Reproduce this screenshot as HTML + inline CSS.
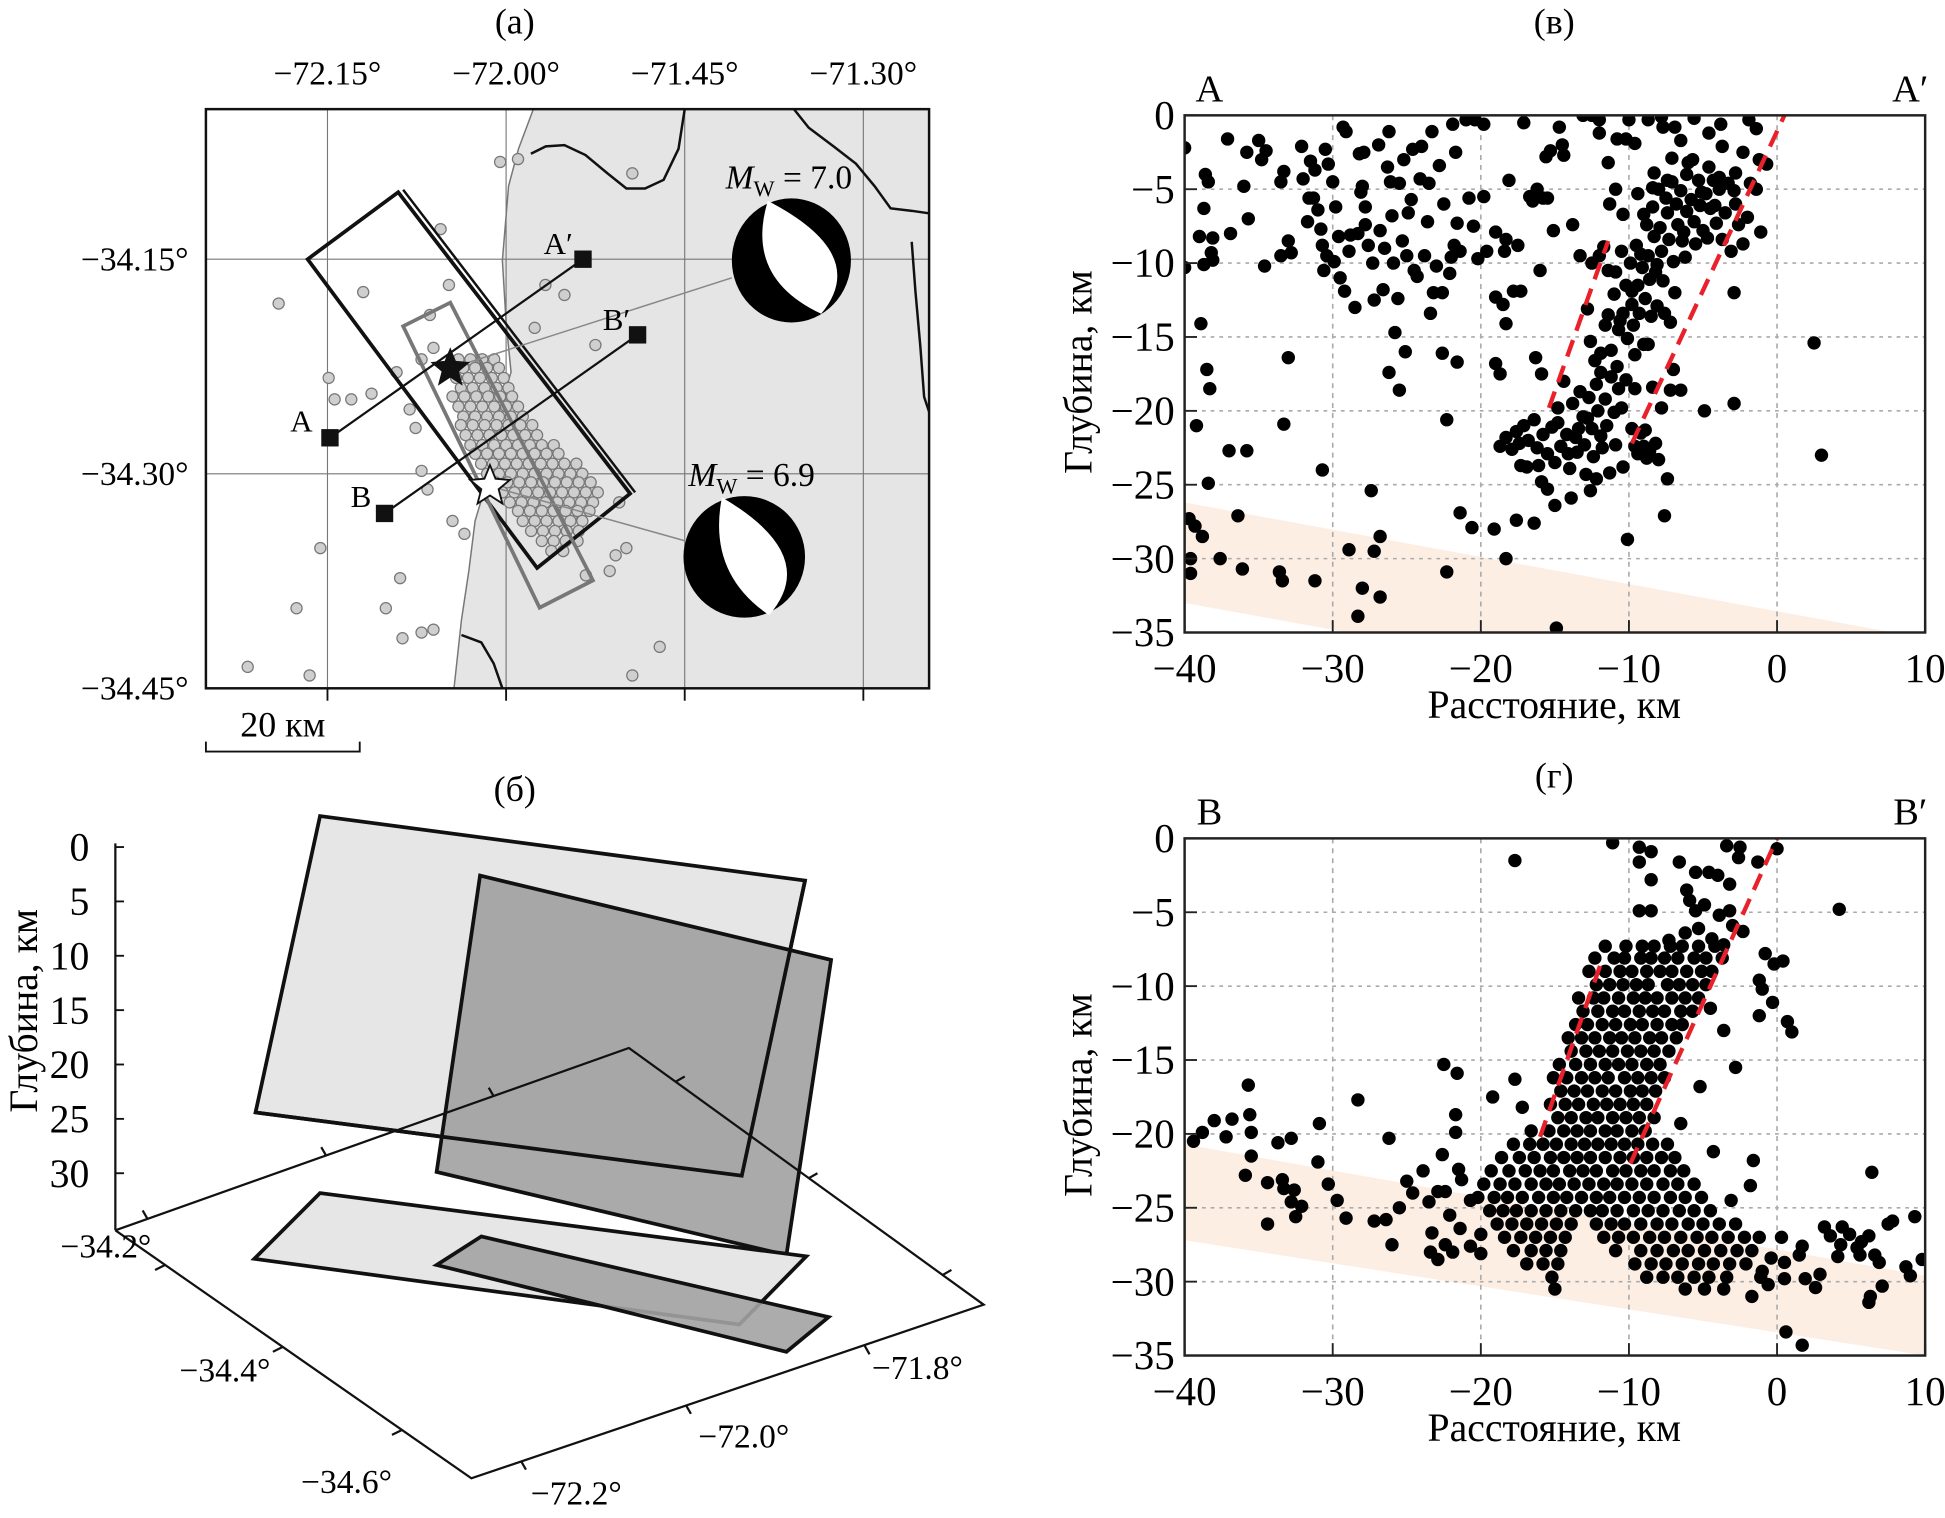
<!DOCTYPE html>
<html><head><meta charset="utf-8"><style>
html,body{margin:0;padding:0;background:#fff;}
svg{display:block;font-family:"Liberation Serif",serif;}
</style></head><body>
<svg id="fig" width="1945" height="1518" viewBox="0 0 1568 1224" preserveAspectRatio="none" xmlns="http://www.w3.org/2000/svg">
<rect x="0" y="0" width="1568" height="1224" fill="#fff"/>

<!-- ===== Panel (a) map ===== -->
<g>
<text x="415" y="27" font-size="29" text-anchor="middle">(a)</text>
<clipPath id="mapclip"><rect x="166" y="88" width="583" height="467"/></clipPath>
<g clip-path="url(#mapclip)">
<path d="M430,88 L418,120 L410,150 L405,210 L408,260 L412,300 L400,340 L395,380 L383,420 L378,460 L372,500 L366,555 L749,555 L749,88 Z" fill="#e5e5e5" stroke="#777" stroke-width="1.2"/>
<g id="mapgrid" stroke="#777" stroke-width="0.9"></g>
<g fill="none" stroke="#111" stroke-width="2">
<path d="M552,88 L547,120 L535,145 L520,152 L505,152 L490,140 L472,125 L455,117 L440,118 L428,124"/>
<path d="M640,88 L652,103 L672,118 L690,132 L705,150 L718,168 L735,170 L749,172"/>
<path d="M735,195 L738,235 L742,280 L745,320 L749,332"/>
<path d="M372,512 L388,518 L398,535 L405,555"/>
</g>
</g>
<g id="mapdots"></g>
<polygon points="321,155 248,209 433,458 508,398" fill="none" stroke="#111" stroke-width="3"/>
<line x1="325" y1="153" x2="512" y2="397" stroke="#111" stroke-width="2"/>
<polygon points="363,244 325,263 435,490 478,468" fill="none" stroke="#777" stroke-width="3"/>
<line x1="363" y1="297" x2="590" y2="224" stroke="#888" stroke-width="1.2"/>
<line x1="395" y1="392" x2="552" y2="436" stroke="#888" stroke-width="1.2"/>
<g stroke="#111" stroke-width="1.8">
<line x1="266" y1="353" x2="470" y2="209"/>
<line x1="310" y1="414" x2="514" y2="270"/>
</g>
<g fill="#111">
<rect x="259" y="346" width="14" height="14"/>
<rect x="463" y="202" width="14" height="14"/>
<rect x="303" y="407" width="14" height="14"/>
<rect x="507" y="263" width="14" height="14"/>
</g>
<g font-size="25">
<text x="243" y="348" text-anchor="middle">A</text>
<text x="450" y="205" text-anchor="middle">A′</text>
<text x="497" y="266" text-anchor="middle">B′</text>
<text x="291" y="409" text-anchor="middle">B</text>
</g>
<polygon fill="#111" points="363,280 367.5,291 379,292 370,299.5 373,311 363,304.5 353,311 356,299.5 347,292 358.5,291"/>
<polygon fill="#fff" stroke="#111" stroke-width="1.5" points="395,375 399.5,386 411,387 402,394.5 405,406 395,399.5 385,406 388,394.5 379,387 390.5,386"/>
<g>
<ellipse cx="638" cy="210" rx="48" ry="50" fill="#000"/>
<path d="M619,162 Q600,224 662,253 Q702,205 619,162 Z" fill="#fff"/>
</g>
<g>
<ellipse cx="600" cy="449" rx="49" ry="49" fill="#000"/>
<path d="M582,401 Q570,462 620,496 Q662,448 582,401 Z" fill="#fff"/>
</g>
<text x="585" y="152" font-size="27"><tspan font-style="italic">M</tspan><tspan font-size="18" dy="6">W</tspan><tspan dy="-6"> = 7.0</tspan></text>
<text x="555" y="392" font-size="27"><tspan font-style="italic">M</tspan><tspan font-size="18" dy="6">W</tspan><tspan dy="-6"> = 6.9</tspan></text>
<rect x="166" y="88" width="583" height="467" fill="none" stroke="#111" stroke-width="2"/>
<g id="maplabels" font-size="27"></g>
<g>
<text x="228" y="594" font-size="29" text-anchor="middle">20 км</text>
<path d="M166,598 L166,606 L290,606 L290,598" fill="none" stroke="#111" stroke-width="1.5"/>
</g>
</g>

<!-- ===== Panel (б) 3D ===== -->
<g>
<text x="415" y="646" font-size="29" text-anchor="middle">(б)</text>
<polygon points="258,658 649,710 598,948 206,897" fill="#e6e6e6" stroke="#111" stroke-width="3"/>
<polygon points="387,706 670,774 634,1012 352,945" fill="#9e9e9e" fill-opacity="0.88" stroke="#111" stroke-width="3"/>
<polyline points="649,710 598,948 206,897" fill="none" stroke="#111" stroke-width="3"/>
<polygon points="258,962 650,1013 596,1068 205,1015" fill="#e6e6e6" stroke="#111" stroke-width="3"/>
<polygon points="388,997 668,1062 634,1090 352,1020" fill="#a3a3a3" fill-opacity="0.9" stroke="#111" stroke-width="3"/>
<g stroke="#111" stroke-width="1.8" fill="none">
<polyline points="93,992 507,845 793,1052 380,1192 93,992"/>
<line x1="93" y1="680" x2="93" y2="992"/>
<line x1="119" y1="983" x2="115" y2="976"/><line x1="263" y1="932" x2="259" y2="925"/><line x1="398" y1="884" x2="394" y2="877"/>
<line x1="545" y1="872" x2="552" y2="868"/><line x1="652" y1="950" x2="659" y2="946"/><line x1="760" y1="1028" x2="767" y2="1024"/>
<line x1="133" y1="1020" x2="125" y2="1024"/><line x1="228" y1="1086" x2="220" y2="1090"/><line x1="324" y1="1153" x2="316" y2="1157"/>
<line x1="697" y1="1085" x2="701" y2="1092"/><line x1="553" y1="1133" x2="557" y2="1140"/><line x1="420" y1="1178" x2="424" y2="1185"/>
</g>
<g id="zticks" font-size="32"></g>
<g font-size="27">
<text x="122" y="1014" text-anchor="end">−34.2°</text>
<text x="218" y="1114" text-anchor="end">−34.4°</text>
<text x="316" y="1204" text-anchor="end">−34.6°</text>
<text x="703" y="1112">−71.8°</text>
<text x="563" y="1167">−72.0°</text>
<text x="428" y="1213">−72.2°</text>
</g>
<text transform="translate(30,815) rotate(-90)" font-size="32" text-anchor="middle">Глубина, км</text>
</g>

<!-- ===== Panels (в) and (г) ===== -->
<g id="panelV"></g>
<g id="panelG"></g>
</svg>

<script>
// ---------- data ----------
var sectionTicksX = [-40, -30, -20, -10, 0, 10];
var sectionTicksY = [0, -5, -10, -15, -20, -25, -30, -35];
var depthTicks3d = [0, 5, 10, 15, 20, 25, 30];
var mapLonTicks = [-72.15, -72.00, -71.85, -71.70];
var mapLonLabels = ["−72.15°", "−72.00°", "−71.45°", "−71.30°"];
var mapLatTicks = [-34.15, -34.30, -34.45];
var mapLatLabels = ["−34.15°", "−34.30°", "−34.45°"];

var mapEvents = [[-72.005,-34.082],[-71.990,-34.080],[-71.894,-34.090],[-72.191,-34.181],[-72.120,-34.173],[-72.149,-34.233],[-72.144,-34.248],[-72.130,-34.248],[-72.113,-34.244],[-72.055,-34.129],[-72.064,-34.189],[-72.156,-34.352],[-72.176,-34.394],[-72.217,-34.435],[-72.165,-34.441],[-72.089,-34.373],[-72.101,-34.394],[-72.087,-34.415],[-72.071,-34.411],[-72.061,-34.409],[-71.894,-34.441],[-71.871,-34.421],[-71.908,-34.357],[-71.899,-34.352],[-71.913,-34.368],[-71.933,-34.371],[-71.967,-34.168],[-71.976,-34.198],[-71.951,-34.175],[-71.925,-34.210],[-72.048,-34.168],[-72.061,-34.212],[-72.071,-34.220],[-72.092,-34.229],[-72.081,-34.255],[-72.076,-34.268],[-72.071,-34.298],[-72.066,-34.311],[-72.045,-34.333],[-72.035,-34.342],[-72.030,-34.262],[-72.010,-34.246],[-71.960,-34.300],[-71.945,-34.330],[-71.905,-34.320]];
var mapClusterRows = [
[-34.220,[-72.040,-72.030,-72.020,-72.010]],
[-34.226,[-72.036,-72.026,-72.016,-72.006]],
[-34.233,[-72.042,-72.032,-72.022,-72.012,-72.002]],
[-34.240,[-72.038,-72.028,-72.018,-72.008,-71.998]],
[-34.246,[-72.045,-72.035,-72.025,-72.015,-72.005,-71.995]],
[-34.253,[-72.040,-72.030,-72.020,-72.010,-72.000,-71.990]],
[-34.260,[-72.036,-72.026,-72.016,-72.006,-71.996,-71.986]],
[-34.266,[-72.038,-72.028,-72.018,-72.008,-71.998,-71.988,-71.978]],
[-34.273,[-72.034,-72.024,-72.014,-72.004,-71.994,-71.984,-71.974]],
[-34.280,[-72.030,-72.020,-72.010,-72.000,-71.990,-71.980,-71.970,-71.960]],
[-34.286,[-72.026,-72.016,-72.006,-71.996,-71.986,-71.976,-71.966,-71.956]],
[-34.293,[-72.021,-72.011,-72.001,-71.991,-71.981,-71.971,-71.961,-71.951,-71.941]],
[-34.300,[-72.016,-72.006,-71.996,-71.986,-71.976,-71.966,-71.956,-71.946,-71.936]],
[-34.306,[-72.009,-71.999,-71.989,-71.979,-71.969,-71.959,-71.949,-71.939,-71.929]],
[-34.313,[-72.003,-71.993,-71.983,-71.973,-71.963,-71.953,-71.943,-71.933,-71.923]],
[-34.320,[-71.997,-71.987,-71.977,-71.967,-71.957,-71.947,-71.937,-71.927]],
[-34.326,[-71.990,-71.980,-71.970,-71.960,-71.950,-71.940,-71.930]],
[-34.333,[-71.986,-71.976,-71.966,-71.956,-71.946,-71.936]],
[-34.340,[-71.979,-71.969,-71.959,-71.949,-71.939]],
[-34.347,[-71.970,-71.960,-71.950,-71.940]],
[-34.354,[-71.962,-71.952]]];

var eventsAA = [[-40,-2.2],[-40,-10.3],[-37.1,-1.6],[-38.6,-4],[-38.4,-4.5],[-38.7,-6.3],[-39,-8.2],[-38.1,-8.3],[-38.2,-9.3],[-38.1,-9.8],[-38.7,-10.1],[-36.9,-8],[-36,-4.8],[-35.7,-7],[-35.8,-2.5],[-35,-1.7],[-34.5,-2.4],[-34.8,-3],[-34.6,-10.2],[-33.5,-9.5],[-33.5,-4.5],[-33.3,-3.8],[-33,-8.5],[-32.8,-9.3],[-32.1,-2.1],[-32,-4.3],[-31.7,-7.2],[-31.6,-5.6],[-31.3,-5.6],[-31.5,-3.1],[-31.2,-3.7],[-31,-6.4],[-30.8,-7.7],[-30.7,-8.8],[-30.5,-2.3],[-30.3,-3.3],[-30.4,-9.5],[-30.6,-10.5],[-30,-4.5],[-29.8,-6.2],[-29.6,-8.2],[-29.9,-9.9],[-29.5,-11],[-29.3,-0.8],[-29.1,-1.1],[-29.2,-11.9],[-28.8,-8.1],[-28.9,-9.2],[-28.5,-13],[-28.3,-8],[-28.2,-2.6],[-28,-4.8],[-28.1,-5.2],[-27.9,-2.5],[-27.8,-6.2],[-27.8,-7.4],[-27.6,-8.8],[-27.3,-10],[-27.2,-12.5],[-26.9,-2],[-26.8,-7.8],[-26.6,-11.8],[-26.5,-9],[-26.3,-3.5],[-26.2,-1.1],[-26.1,-4.5],[-26,-6.8],[-25.9,-10],[-25.6,-12.4],[-25.5,-4.6],[-25.3,-8.5],[-25.2,-3],[-25,-9.5],[-24.9,-6.6],[-24.7,-5.7],[-24.6,-2.3],[-24.5,-10.5],[-24.3,-10.9],[-24.1,-4.3],[-24,-2.1],[-23.8,-9.5],[-23.6,-7.2],[-23.5,-4.6],[-23.3,-1.1],[-23.2,-12],[-23,-10.2],[-22.8,-3.4],[-22.6,-12],[-22.5,-6],[-22.1,-10.7],[-22,-9.6],[-21.9,-0.6],[-21.7,-2.5],[-21.8,-8.8],[-21.6,-7.3],[-21.4,-9.2],[-21,-0.3],[-20.8,-5.6],[-20.5,-7.5],[-20.4,-0.3],[-20.2,-9.7],[-19.8,-0.6],[-19.8,-5.5],[-19.6,-9.2],[-19,-7.9],[-18.4,-9.2],[-18.3,-8.4],[-18.1,-4.4],[-17.8,-11.9],[-17.5,-8.8],[-17.1,-0.5],[-16.7,-5.5],[-16.5,-5.8],[-16.2,-5],[-16,-10.5],[-15.8,-5.6],[-15.5,-5.6],[-15.6,-2.8],[-15.3,-2.4],[-15.1,-7.8],[-14.5,-2],[-14.7,-0.8],[-14.4,-2.7],[-13.8,-7.4],[-13.3,-9.5],[-12.5,-10],
[-38.9,-14.1],[-38.5,-17.2],[-38.3,-18.5],[-39.2,-21],[-37,-22.7],[-35.8,-22.7],[-38.4,-24.9],[-39.7,-27.3],[-39.3,-27.8],[-38.8,-28.5],[-39.6,-30],[-39.6,-31],[-37.6,-30],[-36.4,-27.1],[-36.1,-30.7],[-33.6,-30.9],[-33.4,-31.5],[-31.2,-31.5],[-30.7,-24],[-33.3,-20.9],[-33,-16.4],[-28.9,-29.4],[-28,-32],[-28.3,-33.9],[-27.2,-29.5],[-26.8,-28.5],[-27.4,-25.4],[-26.8,-32.6],[-26.2,-17.4],[-25.5,-18.6],[-25.8,-14.7],[-25.1,-16],[-23.4,-13.4],[-22.6,-16.1],[-21.6,-16.7],[-22.3,-20.6],[-22.3,-30.9],[-21.4,-26.9],[-20.6,-27.9],[-19,-16.8],[-18.7,-17.5],[-19.1,-28],[-18.3,-14.1],[-18.5,-12.8],[-19,-12.3],[-17.6,-27.4],[-18.3,-30],[-17.3,-11.9],[-16.3,-16.4],[-16.4,-27.6],[-15.9,-17.5],[-14.9,-34.7],
[-18.7,-22.4],[-18.3,-21.8],[-17.9,-22.6],[-17.6,-21.4],[-17.4,-22.2],[-17.1,-21],[-17.3,-23.7],[-16.9,-23.8],[-16.8,-22],[-16.4,-20.6],[-16.2,-22.5],[-16.1,-23.7],[-15.9,-24.8],[-15.8,-21.6],[-15.5,-22.9],[-15.5,-25.3],[-15.2,-21.1],[-15,-23.5],[-15,-26.4],[-14.8,-20.8],[-14.6,-22.4],[-14.4,-18],[-14.2,-21.6],[-14,-23.9],[-13.8,-19.5],[-13.6,-21.8],[-13.5,-22.8],[-13.3,-18.7],[-13.1,-20.4],[-13,-22.3],[-12.9,-24.3],[-12.7,-19.1],[-12.5,-21.2],[-12.4,-23.1],[-12.2,-18.2],[-12.1,-20],[-11.9,-17.4],[-11.8,-22.5],[-11.6,-19.2],[-11.5,-21],[-11.3,-24.2],[-11.2,-17.7],[-11,-20.1],[-10.9,-22.3],[-10.7,-18.5],[-10.5,-19.8],[-10.4,-23.8],[-10.2,-17.9],[-9.8,-21.2],[-9.6,-18.5],[-9.4,-22.9],[-9.2,-21.5],[-9,-22.4],[-8.8,-23.2],[-8.6,-22.7],[-8.4,-18.4],[-8.2,-22.2],[-8,-23.3],[-7.8,-19.8],[-7.4,-24.6],[-7.6,-27.1],[-7.2,-18.6],[-10.1,-28.7],[-12.6,-25.4],[-13.9,-25.9],[-12.2,-24.6],[-14.8,-19.8],[-13.4,-21.2],[-12.8,-20.5],[-14.1,-22.9],[-11.9,-21.7],[-9.6,-22.4],[-8.9,-21.3],
[-12.8,-13.1],[-12.6,-15.3],[-12.3,-16.6],[-11.9,-16.1],[-11.6,-14.2],[-11.4,-13.5],[-11.2,-15.9],[-11,-12.1],[-10.9,-10.6],[-10.7,-14.5],[-10.5,-9.2],[-10.4,-13.4],[-10.2,-11.5],[-10.1,-15.1],[-9.9,-10],[-9.8,-12.8],[-9.7,-14.2],[-9.5,-8.8],[-9.4,-11.5],[-9.3,-13.4],[-9.1,-10.3],[-9,-15.5],[-8.9,-12.4],[-8.8,-7.4],[-8.7,-9.5],[-8.6,-11.1],[-8.5,-13.6],[-8.4,-6.2],[-8.3,-8.2],[-8.2,-10.6],[-8.1,-12.9],[-8,-5],[-7.9,-7.6],[-7.8,-9.2],[-7.7,-11.2],[-7.6,-13.4],[-7.4,-6.6],[-7.3,-8.4],[-7.1,-4.5],[-7,-9.9],[-6.9,-12],[-6.8,-6],[-6.7,-7.4],[-6.5,-5.1],[-6.4,-8.5],[-6.2,-9.6],[-6.1,-6.5],[-6,-3.2],[-5.8,-5.7],[-5.6,-7.2],[-5.5,-8.7],[-5.3,-4.4],[-5.2,-6.1],[-5,-7.8],[-4.8,-5.3],[-4.7,-8.3],[-4.5,-6.3],[-4.3,-4.4],[-4.1,-7.3],[-3.9,-5],[-3.7,-8.4],[-3.5,-6.6],[-3.3,-4.6],[-3.1,-9.2],[-2.9,-5.1],[-2.6,-7.4],[-2.3,-8.7],[-2,-6.9],[-1.8,-4.6],[-1.4,-5],[-1.1,-7.9],[-0.7,-3.3],[-1.2,-3],[-1.4,-0.9],[-1.9,-0.3],[-2.3,-2.5],[-3.7,-2.1],[-3.8,-0.6],[-4.6,-1.2],[-5.6,-0.2],[-6.5,-1.7],[-6.9,-0.8],[-7.7,-0.8],[-7.8,-0.1],[-8.7,-0.3],[-9.6,-1.9],[-10.2,-1.6],[-10,-0.3],[-10.8,-1.6],[-11.4,-3.2],[-12,-1.2],[-12,-0.3],[-12.5,0],[-13.1,0],[-11.3,-6],[-10.4,-6.7],[-10.9,-5],[-9.4,-5.3],[-9,-6.7],[-8.4,-4.9],[-8.3,-3.9],[-7.4,-4.4],[-7.1,-2.9],[-6.1,-4],[-5.7,-3],[-4.6,-3.5],[-3.9,-4.2],[-2.8,-3.9],[-2.8,-6],[-11.7,-8.9],[-11.4,-10.5],[-12,-9.5],[-9.6,-16.2],[-10.8,-17],[-8.7,-15.5],[-7.2,-14],[-7,-17.2],[-6.5,-18.6],[-4.9,-20],[-2.9,-19.5],[-2.9,-12],[2.5,-15.4],[3,-23],[-9.2,-9.4],[-8.1,-10.1],[-7.5,-5.6],[-6.3,-7.9],[-5.1,-5.2],[-4.2,-6.1],[-9.8,-11.9],[-10.6,-13.9]];

var eventsBBScatter = [[-39.4,-20.5],[-38.8,-19.9],[-38,-19.1],[-37.2,-20.2],[-36.8,-19],[-35.7,-16.7],[-35.6,-18.7],[-35.5,-19.9],[-35.5,-21.5],[-35.9,-22.8],[-34.4,-23.3],[-34.4,-26.1],[-33.7,-20.6],[-32.8,-20.3],[-33.4,-23.1],[-33.3,-23.7],[-32.6,-23.8],[-32.8,-24.6],[-32.1,-24.9],[-32.5,-25.6],[-30.9,-19.3],[-31,-21.9],[-30.3,-23.4],[-29.7,-24.5],[-29.1,-25.7],[-28.3,-17.7],[-27.2,-25.9],[-26.4,-25.8],[-26.2,-20.3],[-26,-27.5],[-25.5,-25],[-25,-23.2],[-24.6,-24],[-23.9,-22.5],[-23.5,-24.6],[-23.3,-26.7],[-23.4,-28],[-22.9,-28.5],[-22.4,-27.5],[-22.9,-23.9],[-22.4,-23.9],[-22.6,-21.4],[-22.5,-15.3],[-21.6,-15.9],[-21.7,-18.7],[-21.7,-19.9],[-21.5,-22.4],[-21.3,-23.1],[-22.1,-25.5],[-21.4,-26.4],[-21.9,-28],[-20.7,-24.5],[-20.7,-27.6],[-20,-26.8],[-20,-28.1],[-19.2,-17.5],[-17.7,-1.5],[-17.7,-16.3],[-17.2,-18.2],
[0.3,-27],[0.5,-28.7],[0.5,-29.8],[-0.4,-28.4],[-1,-29.3],[-0.6,-30.2],[-1.7,-31],[-1.8,-23.5],[0.6,-33.4],[1.7,-34.3],[1.5,-28.2],[1.7,-27.6],[1.9,-29.8],[2.6,-30.4],[2.9,-29.5],[3.2,-26.3],[3.6,-26.9],[4.1,-28.3],[4.3,-27.5],[4.4,-26.3],[4.9,-26.8],[5.4,-27.7],[5.6,-28.2],[5.7,-27.3],[6.2,-26.9],[6.4,-22.6],[6.6,-28.2],[6.9,-28.7],[7.1,-30.3],[6.3,-31],[6.2,-31.4],[7.5,-26.1],[7.8,-25.9],[8.7,-29],[9,-29.6],[9.3,-25.6],[9.8,-28.5],[4.2,-4.8],[0.7,-12.4],[1,-13.1],[0.4,-8.3],[-0.3,-11.1],[-1.2,-12],[-1.2,-9.6],[-1,-10.2],[-0.8,-7.8],[-0.2,-8.5],[-1.3,-1.6],[0,-0.7],[-2.5,-0.6],[-3.4,-0.5],[-2.6,-1.3],[-6.6,-1.6],[-5.5,-2.3],[-4.6,-2.3],[-4,-2.5],[-3.2,-3.1],[-6.1,-3.5],[-5.9,-4.2],[-8.5,-2.8],[-9.3,-0.6],[-9.3,-1.6],[-8.5,-0.9],[-11.1,-0.3],[-9.3,-4.9],[-8.5,-4.9],[-5.5,-4.9],[-4.9,-4.5],[-3.9,-5.2],[-3.2,-4.9],[-3,-5.9],[-2.3,-6.3],[-4.5,-11.5],[-3.6,-13],[-2.8,-15.5],[-5.2,-16.8],[-6.5,-19.3],[-1.6,-21.8],[-4.3,-21.2],[-3.1,-24.5],[-5.3,-6.1],[-4.4,-6.8],[-6.2,-6.4],[-7.3,-6.9],[-3.6,-7.2]];

var eventsBBRows = [
[-7.3,[-11.6,-10.2,-9.1,-8.3,-7.2,-6.4,-5.3,-4.2]],
[-8.1,[-12.3,-11,-10.3,-9.2,-8.5,-7.6,-6.7,-5.6,-4.8,-3.7]],
[-9.0,[-12.7,-11.6,-10.6,-9.8,-8.8,-7.9,-7.1,-6.1,-5.1,-4.4]],
[-9.9,[-12.2,-11.3,-10.4,-9.5,-8.7,-7.4,-6.6,-5.7,-4.8]],
[-10.8,[-13.4,-12.4,-11.7,-10.7,-9.7,-8.9,-8.1,-7.1,-6.2,-5.3]],
[-11.7,[-13.1,-12.1,-11.1,-10.3,-9.3,-8.4,-7.6,-6.5,-5.7]],
[-12.6,[-13.6,-12.8,-11.8,-10.9,-9.9,-9.1,-8.1,-7.1,-6.4]],
[-13.5,[-14.1,-13.2,-12.3,-11.3,-10.5,-9.6,-8.6,-7.8,-6.8]],
[-14.4,[-13.9,-12.9,-12,-11.1,-10.1,-9.2,-8.3,-7.3]],
[-15.3,[-14.7,-13.6,-12.6,-11.6,-10.7,-9.8,-8.8,-7.9]],
[-16.2,[-15.1,-14.2,-13.2,-12.3,-11.4,-10.3,-9.4,-8.5,-7.6]],
[-17.1,[-14.6,-13.7,-12.8,-11.8,-10.9,-9.9,-9.1,-8.2]],
[-18.0,[-15.3,-14.3,-13.4,-12.4,-11.5,-10.6,-9.7,-8.8]],
[-18.9,[-14.8,-13.9,-12.9,-12.1,-11.1,-10.2,-9.3,-8.3]],
[-19.8,[-16.6,-15.4,-14.4,-13.5,-12.6,-11.6,-10.8,-9.8,-8.9]],
[-20.7,[-17.8,-16.7,-15.8,-14.9,-13.9,-13,-12.1,-11.2,-10.3,-9.4,-8.4,-7.4]],
[-21.6,[-18.6,-17.4,-16.4,-15.3,-14.4,-13.5,-12.6,-11.6,-10.6,-9.7,-8.8,-7.8,-6.9]],
[-22.5,[-19.3,-18.1,-17,-16,-15.1,-14,-13.1,-12.2,-11.1,-10.2,-9.2,-8.3,-7.2,-6.3]],
[-23.4,[-19.8,-18.7,-17.7,-16.6,-15.6,-14.7,-13.7,-12.7,-11.7,-10.8,-9.8,-8.8,-7.7,-6.7,-5.6]],
[-24.3,[-20.2,-19.1,-18.2,-17.2,-16.1,-15.1,-14.2,-13.2,-12.2,-11.3,-10.3,-9.3,-8.3,-7.2,-6.2,-5.1]],
[-25.2,[-19.4,-18.5,-17.6,-16.6,-15.6,-14.6,-13.6,-12.6,-11.8,-10.8,-9.7,-8.7,-7.7,-6.6,-5.6,-4.5]],
[-26.1,[-18.9,-17.9,-16.9,-15.9,-14.9,-13.9,-12.2,-11.2,-10.3,-9.2,-8.1,-7.1,-6,-5,-3.9,-2.8]],
[-27.0,[-18.4,-17.3,-16.3,-15.3,-14.3,-11.7,-10.7,-9.7,-8.6,-7.6,-6.5,-5.4,-4.4,-3.3,-2.2,-1.2]],
[-27.9,[-17.8,-16.6,-15.6,-14.6,-10.9,-9.2,-8.1,-7,-6,-4.9,-3.8,-2.7,-1.7]],
[-28.8,[-16.9,-15.8,-14.8,-9.6,-8.5,-7.5,-6.4,-5.3,-4.3,-3.2,-2.1]],
[-29.7,[-15.2,-8.8,-7.7,-6.7,-5.6,-4.6,-3.4,-1.1]],
[-30.5,[-15,-6.2,-4.9,-3.6]]];

var bandAA = {top:[[-40,-26.2],[10,-35.4]], bottom:[[-40,-33],[-29,-35]]};
var bandBB = {top:[[-40,-20.7],[10,-29.6]], bottom:[[-40,-27.2],[10,-35]]};
var faultLinesAA = [[[-15.4,-19.8],[-11.4,-8.5]],[[-9.8,-22.2],[0.5,0]]];
var faultLinesBB = [[[-16,-20.2],[-11.8,-8.2]],[[-9.9,-22],[0,0]]];

// ---------- rendering ----------
var NS = "http://www.w3.org/2000/svg";
function mk(tag, attrs, parent){var e=document.createElementNS(NS,tag);for(var k in attrs)e.setAttribute(k,attrs[k]);if(parent)parent.appendChild(e);return e;}

// map
var mapX = function(lon){return 264 + (lon + 72.15)/0.15*144;};
var mapY = function(lat){return 209 + (-34.15 - lat)/0.15*173;};
var grid = document.getElementById('mapgrid');
mapLonTicks.forEach(function(t){var l=mk('line',{x1:mapX(t),x2:mapX(t),y1:88,y2:555},grid);

});
mapLatTicks.forEach(function(t){var l=mk('line',{x1:166,x2:749,y1:mapY(t),y2:mapY(t)},grid);

});
var ml = document.getElementById('maplabels');
mapLonTicks.forEach(function(t,i){var tx=mk('text',{x:mapX(t),y:68,'text-anchor':'middle'},ml);tx.textContent=mapLonLabels[i];


mk('line',{x1:mapX(t),x2:mapX(t),y1:555,y2:565,stroke:'#111','stroke-width':1.5},ml);});
mapLatTicks.forEach(function(t,i){var tx=mk('text',{x:152,y:mapY(t)+9,'text-anchor':'end'},ml);tx.textContent=mapLatLabels[i];

});
var md = document.getElementById('mapdots');
function mapDot(lon,lat){var c=mk('circle',{cx:mapX(lon),cy:mapY(lat),r:4.5,fill:'#cfcfcf',stroke:'#777','stroke-width':1},md);

}
mapEvents.forEach(function(p){mapDot(p[0],p[1]);});
mapClusterRows.forEach(function(r){r[1].forEach(function(lon){mapDot(lon,r[0]);});});

// 3d depth ticks
var zt = document.getElementById('zticks');
var zY = function(d){return 683 + d/30*263;};
depthTicks3d.forEach(function(d){var t=mk('text',{x:72,y:zY(d)+11,'text-anchor':'end'},zt);t.textContent=d;


mk('line',{x1:93,x2:100,y1:zY(d),y2:zY(d),stroke:'#111','stroke-width':1.5},zt);});

// sections
function section(g, top, titleY, title, lblL, lblR, pts, rows, band, faults){
  var L=955,R=1552,T=top,B=top+417;
  var X=function(v){return L+(v+40)/50*(R-L);};
  var Y=function(d){return T+(-d)/35*(B-T);};
  var clipId='clip'+top;
  var cp=mk('clipPath',{id:clipId},g); mk('rect',{x:L,y:T,width:R-L,height:B-T},cp);
  var tt=mk('text',{x:1253,y:titleY,'font-size':29,'text-anchor':'middle'},g); tt.textContent=title;
  
  
  var a=mk('text',{x:975,y:T-11,'font-size':31,'text-anchor':'middle'},g); a.textContent=lblL;
  
  
  var b=mk('text',{x:1540,y:T-11,'font-size':31,'text-anchor':'middle'},g); b.textContent=lblR;
  
  
  var inner=mk('g',{'clip-path':'url(#'+clipId+')'},g);
  var bp=mk('polygon',{points:[X(band.top[0][0])+','+Y(band.top[0][1]),X(band.top[1][0])+','+Y(band.top[1][1]),X(band.bottom[1][0])+','+Y(band.bottom[1][1]),X(band.bottom[0][0])+','+Y(band.bottom[0][1])].join(' '),fill:'#fdeee4'},inner);
  
  
  sectionTicksX.forEach(function(v){var l=mk('line',{x1:X(v),x2:X(v),y1:T,y2:B,stroke:'#aaa','stroke-width':1.3,'stroke-dasharray':'4,4'},inner);
    
    });
  sectionTicksY.forEach(function(v){var l=mk('line',{x1:L,x2:R,y1:Y(v),y2:Y(v),stroke:'#aaa','stroke-width':1.3,'stroke-dasharray':'3,4'},inner);
    
    });
  function dot(x,d){var c=mk('circle',{cx:X(x),cy:Y(d),r:5.4,fill:'#000'},inner);
    
    }
  pts.forEach(function(p){dot(p[0],p[1]);});
  if(rows) rows.forEach(function(r){r[1].forEach(function(x){dot(x,r[0]);});});
  faults.forEach(function(f){var l=mk('line',{x1:X(f[0][0]),y1:Y(f[0][1]),x2:X(f[1][0]),y2:Y(f[1][1]),stroke:'#e8212a','stroke-width':3.5,'stroke-dasharray':'14,8'},inner);
    
    });
  var fr=mk('rect',{x:L,y:T,width:R-L,height:B-T,fill:'none',stroke:'#222','stroke-width':2},g);
  
  
  sectionTicksX.forEach(function(v){
    mk('line',{x1:X(v),x2:X(v),y1:B,y2:B-10,stroke:'#222','stroke-width':1.5},g);
    var t=mk('text',{x:X(v),y:B+40,'font-size':33,'text-anchor':'middle'},g); t.textContent=(v<0?'−'+(-v):''+v);
    
    });
  sectionTicksY.forEach(function(v){
    mk('line',{x1:L,x2:L+10,y1:Y(v),y2:Y(v),stroke:'#222','stroke-width':1.5},g);
    var t=mk('text',{x:L-8,y:Y(v)+11,'font-size':33,'text-anchor':'end'},g); t.textContent=(v<0?'−'+(-v):''+v);
    
    });
  var xt=mk('text',{x:1253,y:B+69,'font-size':32,'text-anchor':'middle'},g); xt.textContent='Расстояние, км';
  
  
  var yt=mk('text',{transform:'translate(880,'+(T+207)+') rotate(-90)','font-size':32,'text-anchor':'middle'},g); yt.textContent='Глубина, км';
  
  
}
section(document.getElementById('panelV'),93,27,'(в)','A','A′',eventsAA,null,bandAA,faultLinesAA);
section(document.getElementById('panelG'),676,635,'(г)','B','B′',eventsBBScatter,eventsBBRows,bandBB,faultLinesBB);
</script>
</body></html>
